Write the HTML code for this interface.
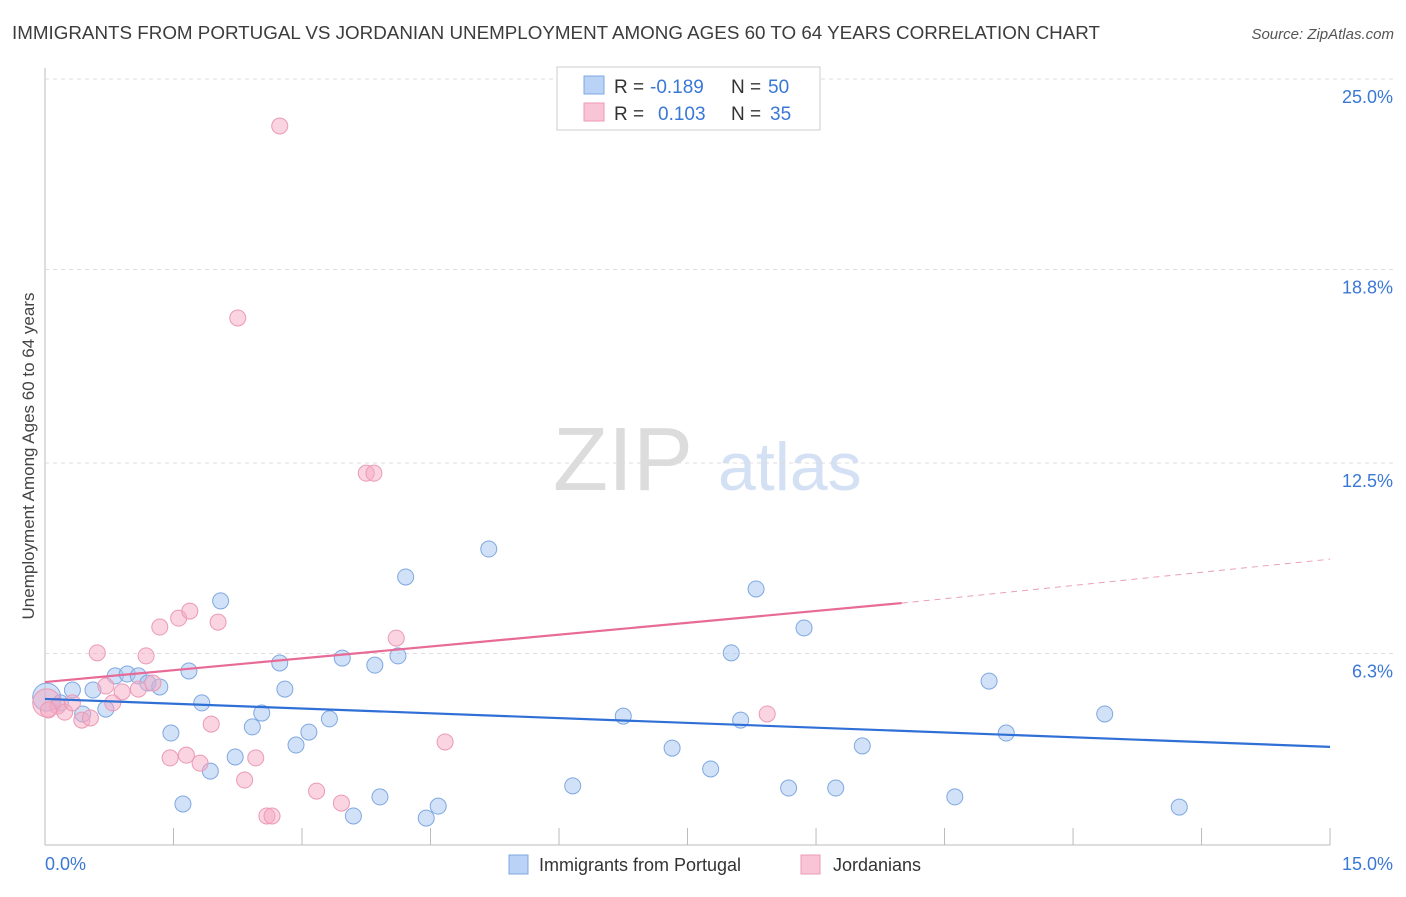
<!DOCTYPE html>
<html><head><meta charset="utf-8"><style>
body{margin:0;background:#fff;font-family:"Liberation Sans",sans-serif;}
svg text{font-family:"Liberation Sans",sans-serif;}
</style></head><body>
<svg id="c" width="1406" height="892">
<text x="12" y="39" font-size="18.3" fill="#3c3c3c" textLength="1088" lengthAdjust="spacingAndGlyphs">IMMIGRANTS FROM PORTUGAL VS JORDANIAN UNEMPLOYMENT AMONG AGES 60 TO 64 YEARS CORRELATION CHART</text>
<text x="1394" y="39" font-size="15" fill="#555" text-anchor="end" font-style="italic">Source: ZipAtlas.com</text>
<text x="553" y="490" font-size="90" fill="#dcdcdc" font-family="Liberation Serif">ZIP</text>
<text x="718" y="490" font-size="68" fill="#d4e0f4">atlas</text>
<text transform="translate(34,456) rotate(-90)" font-size="17" fill="#444" text-anchor="middle">Unemployment Among Ages 60 to 64 years</text>
<g id="grid"></g><g id="marks"></g>
<g>
<rect x="557" y="67" width="263" height="63" fill="#fff" stroke="#ccc"/>
<rect x="584" y="76" width="20" height="18" fill="#b9d2f5" stroke="#7fa8e0"/>
<rect x="584" y="103" width="20" height="18" fill="#f9c4d5" stroke="#eb9ab5"/>
<text x="614" y="93" font-size="19" fill="#333">R =</text>
<text x="650" y="93" font-size="19" fill="#3a78d6">-0.189</text>
<text x="731" y="93" font-size="19" fill="#333">N =</text>
<text x="768" y="93" font-size="19" fill="#3a78d6">50</text>
<text x="614" y="120" font-size="19" fill="#333">R =</text>
<text x="658" y="120" font-size="19" fill="#3a78d6">0.103</text>
<text x="731" y="120" font-size="19" fill="#333">N =</text>
<text x="770" y="120" font-size="19" fill="#3a78d6">35</text>
</g>
<g>
<rect x="509" y="855" width="19" height="19" fill="#b9d2f5" stroke="#7fa8e0"/>
<text x="539" y="871" font-size="18" fill="#333">Immigrants from Portugal</text>
<rect x="801" y="855" width="19" height="19" fill="#f9c4d5" stroke="#eb9ab5"/>
<text x="833" y="871" font-size="18" fill="#333">Jordanians</text>
</g>
</svg>
<script>
const blueX=[0.02,0.18,0.32,0.44,0.56,0.71,0.82,0.96,1.09,1.20,1.34,1.47,1.61,1.68,1.83,1.93,2.05,2.22,2.42,2.53,2.74,2.80,2.93,3.08,3.32,3.47,3.60,3.85,3.91,4.12,4.21,4.45,4.59,5.18,6.16,6.75,7.32,7.77,8.01,8.12,8.30,8.68,8.86,9.23,9.54,10.62,11.02,11.22,12.37,13.24];
const blueY=[4.88,4.69,5.11,4.33,5.11,4.49,5.57,5.63,5.57,5.34,5.21,3.71,1.40,5.73,4.69,2.47,8.01,2.93,3.91,4.36,5.99,5.14,3.32,3.74,4.17,6.15,1.01,5.92,1.63,6.22,8.79,0.94,1.33,9.70,1.99,4.26,3.22,2.54,6.32,4.13,8.40,1.92,7.13,1.92,3.29,1.63,5.40,3.71,4.33,1.30];
const pinkX=[0.02,0.15,0.23,0.32,0.43,0.53,0.61,0.71,0.79,0.90,1.09,1.18,1.26,1.34,1.46,1.56,1.65,1.69,1.81,1.94,2.02,2.25,2.33,2.46,2.59,2.65,2.74,3.17,3.46,3.75,3.84,4.10,4.67,8.43,0.04];
const pinkY=[4.69,4.59,4.39,4.69,4.13,4.20,6.32,5.24,4.69,5.05,5.14,6.22,5.34,7.16,2.90,7.45,2.99,7.68,2.73,4.00,7.32,17.22,2.18,2.90,1.01,1.01,23.47,1.82,1.43,12.17,12.17,6.80,3.42,4.33,4.46];
const yTicks=[25.0,18.8,12.5,6.3];
const yTickLabels=["25.0%","18.8%","12.5%","6.3%"];
const xTicks=[0,1.5,3,4.5,6,7.5,9,10.5,12,13.5,15];
const blueTrend=[4.82,3.26];
const pinkTrend=[5.37,7.94,9.37];
const X=v=>45+v*85.67, Y=v=>847-v*30.72;
const NS="http://www.w3.org/2000/svg";
function mk(t,a,p){const e=document.createElementNS(NS,t);for(const k in a)e.setAttribute(k,a[k]);p.appendChild(e);return e;}
const g=document.getElementById('grid'), m=document.getElementById('marks');
let e=mk('line',{x1:45,y1:68,x2:45,y2:845,stroke:'#bbb'},g);


e=mk('line',{x1:45,y1:845,x2:1330,y2:845,stroke:'#bbb'},g);


yTicks.forEach((t,i)=>{
 e=mk('line',{x1:45,y1:Y(t),x2:1393,y2:Y(t),stroke:'#ddd','stroke-dasharray':'4,4'},g);
 
 
 e=mk('text',{x:1393,y:Y(t)+24,'font-size':18,fill:'#3a78d6','text-anchor':'end'},g);e.textContent=yTickLabels[i];
 
 
});
xTicks.forEach(t=>{
 e=mk('line',{x1:X(t),y1:828,x2:X(t),y2:845,stroke:'#bbb'},g);
 
 
});
e=mk('text',{x:45,y:870,'font-size':18,fill:'#3a78d6'},g);e.textContent='0.0%';


e=mk('text',{x:1393,y:870,'font-size':18,fill:'#3a78d6','text-anchor':'end'},g);e.textContent='15.0%';


function pts(xs,ys,fill,stroke,name){xs.forEach((x,i)=>{
 e=mk('circle',{cx:X(x),cy:Y(ys[i]),r:i==0?14:8,fill:fill,stroke:stroke,'stroke-width':1},m);
 
 
});}
pts(blueX,blueY,'rgba(164,196,240,0.5)','#7fa8e0','portugal-point');
pts(pinkX,pinkY,'rgba(245,170,195,0.5)','#eb9ab5','jordanian-point');
e=mk('line',{x1:X(0),y1:Y(blueTrend[0]),x2:X(15),y2:Y(blueTrend[1]),stroke:'#2f6fd6','stroke-width':2.2},m);


e=mk('line',{x1:X(0),y1:Y(pinkTrend[0]),x2:X(10),y2:Y(pinkTrend[1]),stroke:'#e86a96','stroke-width':2.2},m);


e=mk('line',{x1:X(10),y1:Y(pinkTrend[1]),x2:X(15),y2:Y(pinkTrend[2]),stroke:'#e8a0b8','stroke-width':1,'stroke-dasharray':'6,5'},m);


</script>
</body></html>
